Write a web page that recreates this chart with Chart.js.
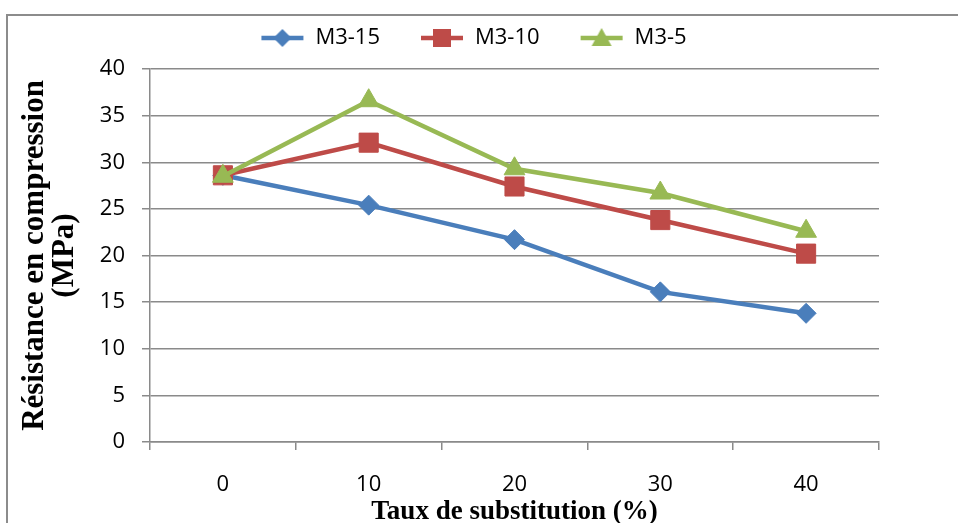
<!DOCTYPE html>
<html>
<head>
<meta charset="utf-8">
<script src="https://cdn.jsdelivr.net/npm/chart.js@4/dist/chart.umd.min.js"></script>
<style>
    html, body { margin: 0; padding: 0; background: #fff; }
    #wrap { width: 958px; height: 523px; position: relative; }
</style>
</head>
<body>
<div id="wrap"><canvas id="strength_chart"></canvas></div>
<script>
// data
const substitution_labels = ['0', '10', '20', '30', '40'];
const m3_15_values = [28.6, 25.4, 21.7, 16.1, 13.8];
const m3_10_values = [28.6, 32.1, 27.4, 23.8, 20.2];
const m3_5_values = [28.5, 36.6, 29.3, 26.7, 22.6];

const series_names = ['M3-15', 'M3-10', 'M3-5'];
const series_colors = ['#4A7EBB', '#BE4B48', '#98B954'];
const series_markers = ['rectRot', 'rect', 'triangle'];

Chart.defaults.color = '#000';
Chart.defaults.font.family = "'Open Sans', sans-serif";

const GRID = '#8a8a8a';

// legend icon: short line with the marker in the middle
function LegendIcon(color, marker) {
    const c = document.createElement('canvas');
    c.width = 44;
    c.height = 24;
    const g = c.getContext('2d');
    g.strokeStyle = color;
    g.fillStyle = color;
    g.lineWidth = 4.5;
    g.beginPath();
    g.moveTo(1, 12);
    g.lineTo(43, 12);
    g.stroke();
    g.beginPath();
    if (marker === 'rectRot') {
        g.moveTo(22, 3); g.lineTo(31, 12); g.lineTo(22, 21); g.lineTo(13, 12);
    } else if (marker === 'rect') {
        g.rect(13, 3, 18, 18);
    } else {
        g.moveTo(22, 2); g.lineTo(32, 20); g.lineTo(12, 20);
    }
    g.closePath();
    g.fill();
    return c;
}
const legend_icons = series_names.map((n, i) => LegendIcon(series_colors[i], series_markers[i]));

// frame round the whole chart, like the office export
const framePlugin = {
    id: 'frame',
    beforeDraw(chart) {
        const ctx = chart.ctx;
        ctx.save();
        ctx.strokeStyle = '#8c8c8c';
        ctx.lineWidth = 2;
        ctx.strokeRect(7, 15, 1200, 1200);
        ctx.restore();
    }
};

// fixed legend box height and a small shift of where it draws
const legendTweak = {
    id: 'legendTweak',
    beforeLayout(chart) {
        const lg = chart.legend;
        if (!lg || lg._tweaked) return;
        lg._tweaked = true;
        const fit = lg.fit.bind(lg);
        lg.fit = function () { fit(); this.height = 69; };
        const draw = lg.draw.bind(lg);
        lg.draw = function () {
            const t = this.top, l = this.left, r = this.right;
            this.top = t - 13;
            this.left = l + 34;
            this.right = r + 34;
            draw();
            this.top = t;
            this.left = l;
            this.right = r;
        };
    }
};

function MakeDataset(i, values, order) {
    return {
        label: series_names[i],
        data: values,
        borderColor: series_colors[i],
        backgroundColor: series_colors[i],
        borderWidth: 4.5,
        pointStyle: series_markers[i],
        pointRadius: series_markers[i] === 'rect' ? 13.5 : (series_markers[i] === 'rectRot' ? 10 : 12),
        pointBorderWidth: 1,
        tension: 0,
        order: order
    };
}

const ctx = document.getElementById('strength_chart').getContext('2d');
const strength_chart = new Chart(ctx, {
    type: 'line',
    data: {
        labels: substitution_labels,
        datasets: [
            MakeDataset(0, m3_15_values, 2),
            MakeDataset(1, m3_10_values, 1),
            MakeDataset(2, m3_5_values, 0)
        ]
    },
    options: {
        responsive: true,
        maintainAspectRatio: false,
        animation: false,
        layout: { padding: { left: 0, top: 0, right: 79, bottom: 0 } },
        plugins: {
            tooltip: { enabled: false },
            legend: {
                position: 'top',
                labels: {
                    usePointStyle: true,
                    pointStyleWidth: 44,
                    padding: 40,
                    font: { size: 22 },
                    sort: (a, b) => a.datasetIndex - b.datasetIndex,
                    generateLabels(chart) {
                        const items = Chart.defaults.plugins.legend.labels.generateLabels(chart);
                        items.forEach(it => { it.pointStyle = legend_icons[it.datasetIndex]; });
                        return items;
                    }
                }
            }
        },
        scales: {
            x: {
                type: 'category',
                offset: true,
                grid: { offset: true, drawOnChartArea: false, drawTicks: true, tickLength: 8, color: GRID, lineWidth: 1.5 },
                border: { display: true, color: GRID, width: 1.5 },
                ticks: { padding: 22, font: { size: 22 } },
                title: {
                    display: true,
                    text: 'Taux de substitution (%)',
                    font: { family: "'Liberation Serif', 'Times New Roman', serif", size: 27, weight: 'bold', lineHeight: 0.8 },
                    padding: { top: 0, bottom: 0 }
                },
                afterFit(scale) { scale.height = 81; }
            },
            y: {
                min: 0,
                max: 40,
                ticks: { stepSize: 5, padding: 17, font: { size: 22 } },
                grid: { color: GRID, lineWidth: 1.5, tickLength: 8 },
                border: { display: true, color: GRID, width: 1.5 },
                title: {
                    display: true,
                    text: ['Résistance en compression', '(MPa)'],
                    font: { family: "'Liberation Serif', 'Times New Roman', serif", size: 31, weight: 'bold', lineHeight: 30 / 31 },
                    padding: { top: 20, bottom: 0 }
                },
                afterFit(scale) { scale.width = 150; }
            }
        }
    },
    plugins: [framePlugin, legendTweak]
});
</script>
</body>
</html>
